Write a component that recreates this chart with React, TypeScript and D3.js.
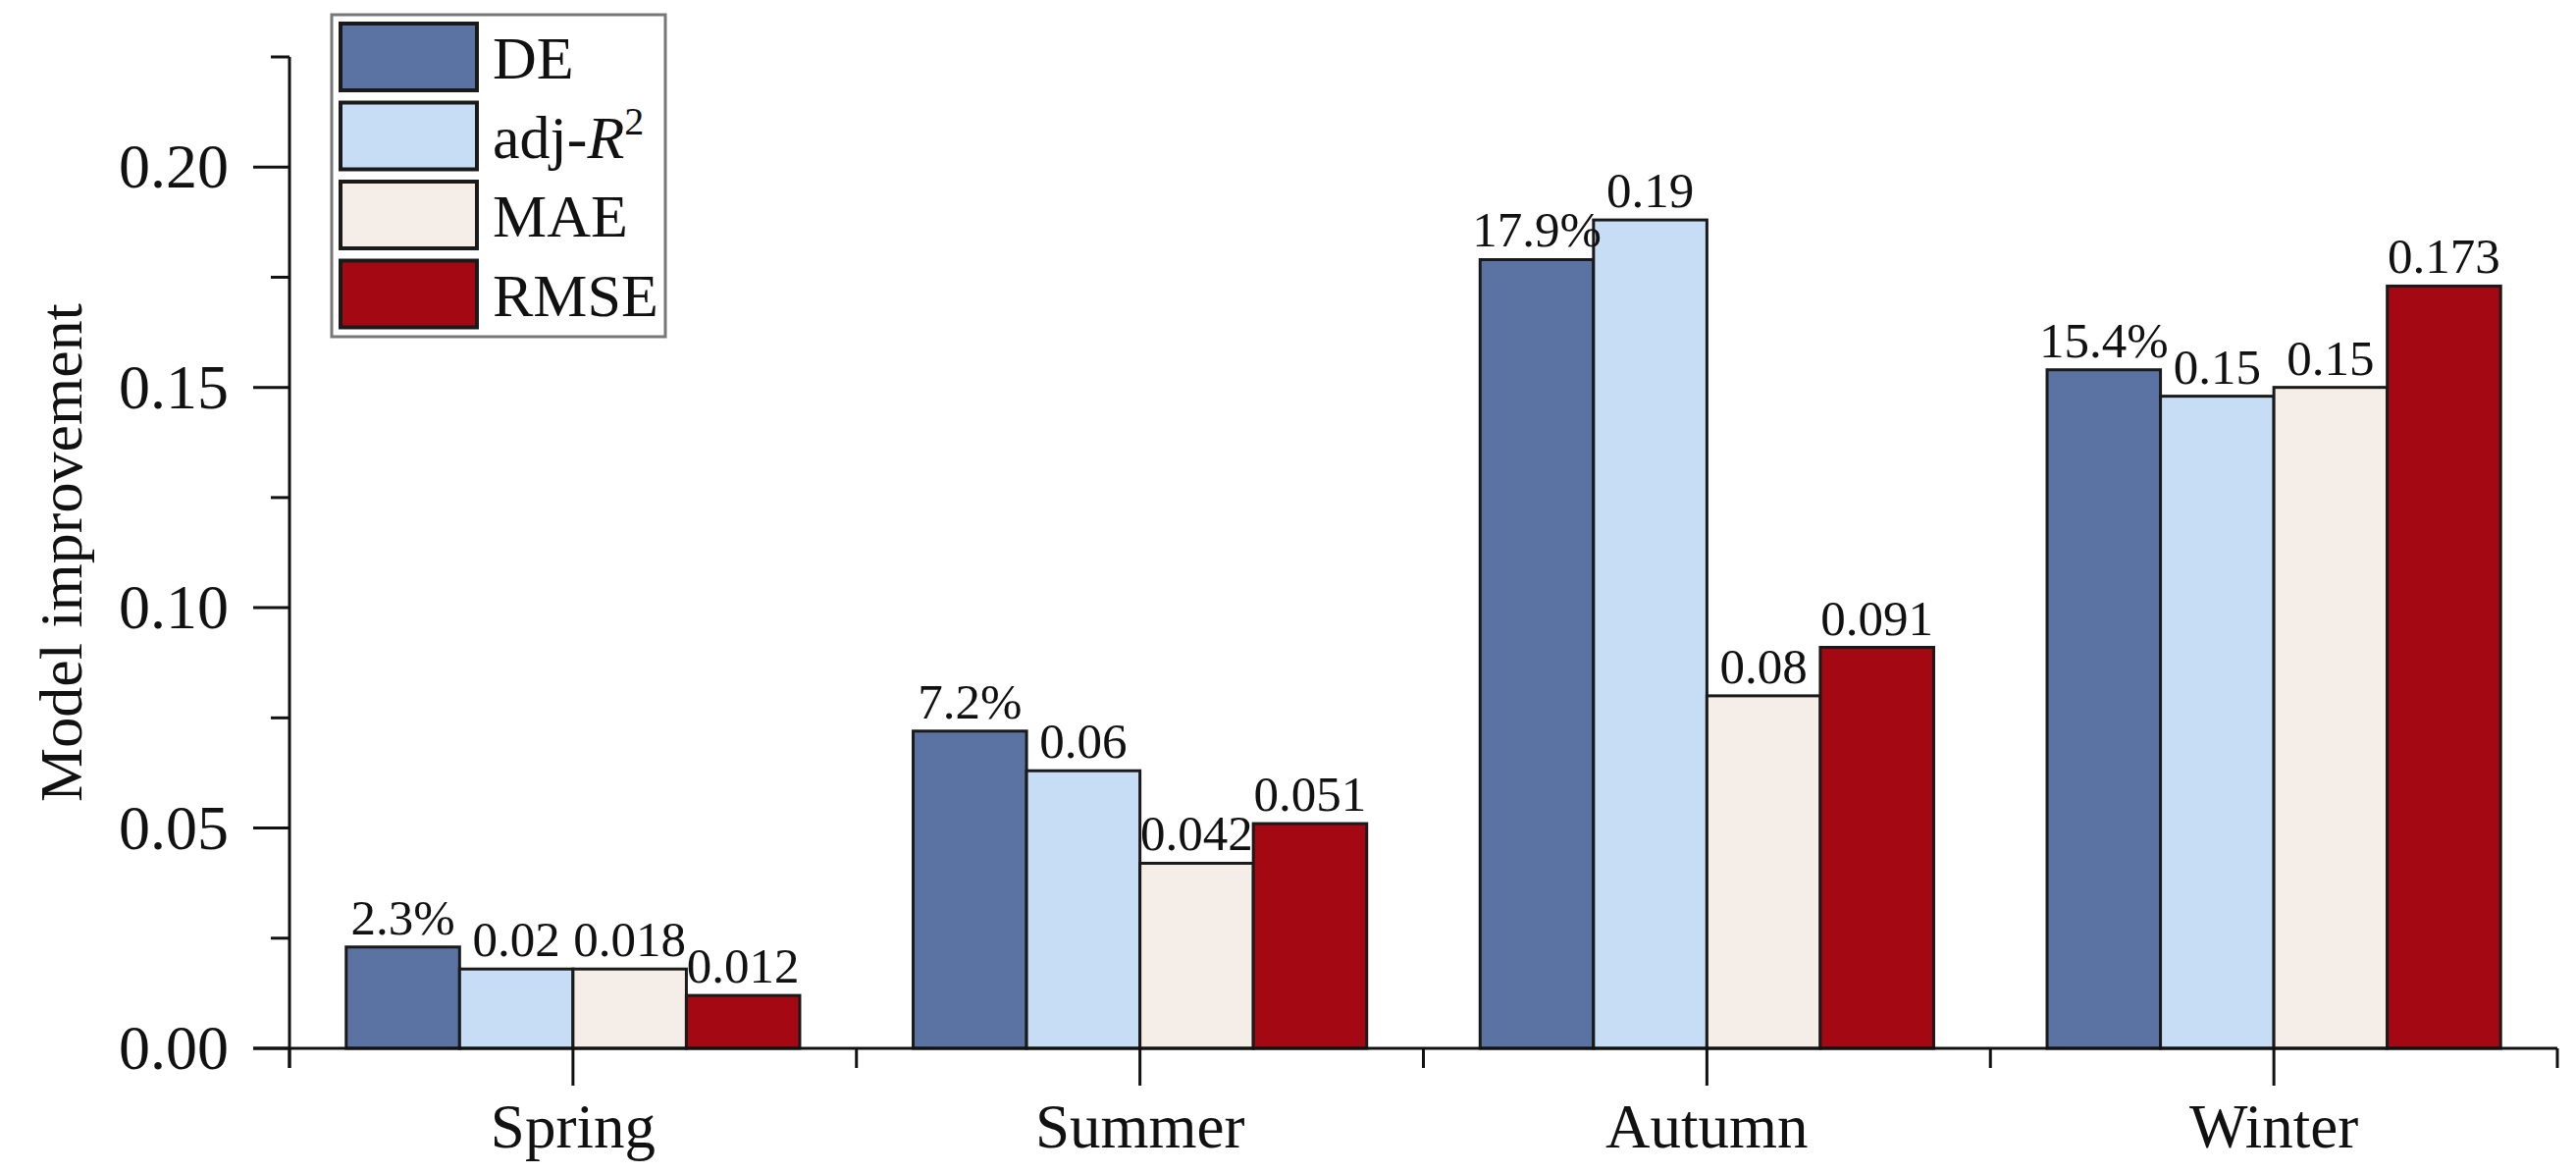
import React from "react";
import * as d3 from "d3";

const categories = ["Spring", "Summer", "Autumn", "Winter"];
const seriesKeys = ["DE", "adjR2", "MAE", "RMSE"];
const deValues = [0.023, 0.072, 0.179, 0.154];
const adjR2Values = [0.018, 0.063, 0.188, 0.148];
const maeValues = [0.018, 0.042, 0.08, 0.15];
const rmseValues = [0.012, 0.051, 0.091, 0.173];
const deLabels = ["2.3%", "7.2%", "17.9%", "15.4%"];
const adjR2Labels = ["0.02", "0.06", "0.19", "0.15"];
const maeLabels = ["0.018", "0.042", "0.08", "0.15"];
const rmseLabels = ["0.012", "0.051", "0.091", "0.173"];
const yTickValues = [0, 0.05, 0.1, 0.15, 0.2];
const yMax = 0.225;
const seriesColors = ["#5a73a3", "#c6ddf5", "#f5ede7", "#a40813"];

const W = 2625;
const H = 1195;
const FONT = "'Liberation Serif', 'Times New Roman', serif";

export default function App() {
  const x0 = 295;
  const x1 = 2606;
  const yBottom = 1068;
  const yTop = 58;

  const xBand = d3.scaleBand<string>().domain(categories).range([x0, x1]).paddingInner(0).paddingOuter(0);
  const bw = xBand.bandwidth();
  const groupW = bw * 0.8;
  const xInner = d3
    .scaleBand<string>()
    .domain(seriesKeys)
    .range([(bw - groupW) / 2, (bw + groupW) / 2])
    .padding(0);
  const y = d3.scaleLinear().domain([0, yMax]).range([yBottom, yTop]);

  const valuesBySeries = [deValues, adjR2Values, maeValues, rmseValues];
  const labelsBySeries = [deLabels, adjR2Labels, maeLabels, rmseLabels];

  const minorY = d3.range(0, yMax + 1e-9, 0.025).filter(
    (v) => !yTickValues.some((t) => Math.abs(t - v) < 1e-9)
  );
  const xBoundaries = [x0, ...categories.map((c) => (xBand(c) as number) + bw)];

  const legendX = 338;
  const legendY = 15;
  const legendW = 340;
  const legendH = 328;
  const swX = 347;
  const swW = 139;
  const swH = 68;
  const rowY = (i: number) => 24 + i * 80.5;

  return (
    <svg
      width={W}
      height={H}
      style={{ position: "absolute", left: 0, top: 0, background: "#fff" }}
      fontFamily={FONT}
    >
      <rect x={0} y={0} width={W} height={H} fill="#fff" />

      {/* bars */}
      {categories.map((c, ci) => (
        <g key={c} transform={`translate(${xBand(c)},0)`}>
          {seriesKeys.map((s, si) => {
            const v = valuesBySeries[si][ci];
            const bx = xInner(s) as number;
            return (
              <rect
                key={s}
                x={bx}
                y={y(v)}
                width={xInner.bandwidth()}
                height={yBottom - y(v)}
                fill={seriesColors[si]}
                stroke="#1a1a1a"
                strokeWidth={3}
              />
            );
          })}
          {seriesKeys.map((s, si) => {
            const v = valuesBySeries[si][ci];
            const bx = (xInner(s) as number) + xInner.bandwidth() / 2;
            return (
              <text
                key={"l" + s}
                x={bx}
                y={y(v) - 13}
                textAnchor="middle"
                fontSize={51}
                fill="#111"
              >
                {labelsBySeries[si][ci]}
              </text>
            );
          })}
        </g>
      ))}

      {/* y axis */}
      <line x1={x0} x2={x0} y1={yTop} y2={yBottom + 20} stroke="#111" strokeWidth={3} />
      {yTickValues.map((t) => (
        <g key={t}>
          <line x1={x0 - 37} x2={x0} y1={y(t)} y2={y(t)} stroke="#111" strokeWidth={3} />
          <text
            x={233}
            y={y(t)}
            dy="0.33em"
            textAnchor="end"
            fontSize={64}
            fill="#111"
          >
            {d3.format(".2f")(t)}
          </text>
        </g>
      ))}
      {minorY.map((t) => (
        <line key={t} x1={x0 - 19} x2={x0} y1={y(t)} y2={y(t)} stroke="#111" strokeWidth={3} />
      ))}
      <text
        transform={`translate(61,${(yTop + yBottom) / 2}) rotate(-90)`}
        textAnchor="middle"
        dy="0.35em"
        fontSize={62}
        fill="#111"
      >
        Model improvement
      </text>

      {/* x axis */}
      <line x1={x0 - 37} x2={x1} y1={yBottom} y2={yBottom} stroke="#111" strokeWidth={3} />
      {xBoundaries.map((bx, i) => (
        <line key={i} x1={bx} x2={bx} y1={yBottom} y2={yBottom + 20} stroke="#111" strokeWidth={3} />
      ))}
      {categories.map((c) => {
        const cx = (xBand(c) as number) + bw / 2;
        return (
          <g key={c}>
            <line x1={cx} x2={cx} y1={yBottom} y2={yBottom + 38} stroke="#111" strokeWidth={3} />
            <text x={cx} y={1169} textAnchor="middle" fontSize={63} fill="#111">
              {c}
            </text>
          </g>
        );
      })}

      {/* legend */}
      <rect
        x={legendX}
        y={legendY}
        width={legendW}
        height={legendH}
        fill="#fff"
        stroke="#777"
        strokeWidth={3}
      />
      {seriesKeys.map((s, i) => (
        <g key={s}>
          <rect
            x={swX}
            y={rowY(i)}
            width={swW}
            height={swH}
            fill={seriesColors[i]}
            stroke="#1a1a1a"
            strokeWidth={4}
          />
          {s === "adjR2" ? (
            <text x={502} y={rowY(i) + swH / 2 + 22} fontSize={62} fill="#111">
              adj-<tspan fontStyle="italic">R</tspan>
              <tspan fontSize={40} dy={-24}>2</tspan>
            </text>
          ) : (
            <text x={502} y={rowY(i) + swH / 2 + 22} fontSize={62} fill="#111">
              {s}
            </text>
          )}
        </g>
      ))}
    </svg>
  );
}
